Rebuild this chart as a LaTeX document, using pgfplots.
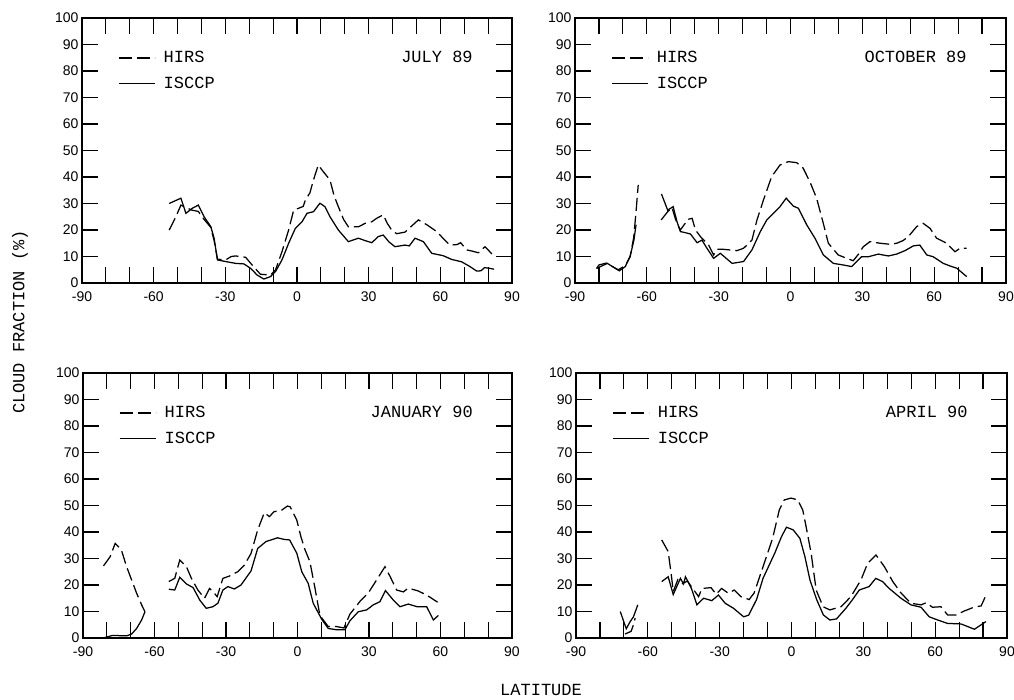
\documentclass[border=0pt]{standalone}
\usepackage{pgfplots}
\pgfplotsset{compat=1.18}
\usepackage{fontspec}
\setmainfont{Liberation Sans}
\newfontfamily\monof{Liberation Mono}
\newcommand{\bigf}{\monof\fontsize{17}{17}\selectfont}
\pgfplotsset{
  panel/.style={
    scale only axis, width=430pt, height=265pt,
    xmin=-90, xmax=90, ymin=0, ymax=100,
    xtick={-90,-60,-30,0,30,60,90},
    xticklabels={-90,-60,-30,0,30,60,90},
    minor xtick={-80,-70,-50,-40,-20,-10,10,20,40,50,70,80},
    ytick={0,10,20,30,40,50,60,70,80,90,100},
    yticklabels={0,10,20,30,40,50,60,70,80,90,100},
    tick align=inside, major tick length=16pt, minor tick length=16pt,
    every tick/.style={black, line width=1.2pt},
    axis line style={black, line width=1.7pt},
    ticklabel style={font=\fontsize{14}{14}\selectfont},
    xticklabel style={yshift=-5pt},
    unbounded coords=jump,
    legend style={at={(axis description cs:0.084,0.815)}, anchor=west,
      draw=none, fill=none, inner sep=0pt, outer sep=0pt, row sep=9pt, column sep=0pt,
      font=\bigf, nodes={inner sep=0pt, outer sep=0pt, text height=11pt, text depth=0pt}},
    legend cell align=left,
    legend image code/.code={\path[draw=none,fill=none] (0pt,0pt) (45pt,11pt); \draw[#1, dash phase=0pt] (0pt,-1pt) -- (36pt,-1pt);},
  },
  hirs/.style={black, line width=1.25pt, dash pattern=on 13pt off 5pt},
  isccp/.style={black, line width=1.25pt},
}
\begin{document}
\begin{tikzpicture}
\useasboundingbox (0,0) rectangle (1014pt,700pt);
% ---------------- JULY 89
\begin{axis}[panel, at={(82pt,417pt)}, anchor=south west]
\addplot[hirs] coordinates {(-53.5,20) (-50.7,25) (-48.6,29.4) (-46.5,28.5) (-44,27.5) (-41.3,27) (-38.9,24) (-36.1,21) (-34.7,16) (-33.3,9) (-29.9,8.7) (-27.5,10) (-25.7,10.2) (-21.5,9.7) (-18.8,6.8) (-15.3,3.3) (-11.1,3) (-9,4.9) (-6.3,11.8) (-3.5,20) (-1.4,27.5) (0.7,28.2) (2.6,28.9) (3.5,31.3) (5.4,34) (6.9,38.9) (8.9,44.5) (11,42) (13.8,38.9) (15.5,33) (17.3,28.8) (19.5,24) (21.5,21.2) (25.7,21.2) (28.5,22.5) (31.3,23.1) (33.5,24.5) (36.1,25.7) (37.8,22.5) (39.6,20) (41.7,18.6) (45.2,19.2) (48,21.5) (50.8,23.8) (54.3,22) (58.5,19.4) (61,17) (64,14.3) (67,14.5) (68.5,15.2) (71,12.5) (73.5,12) (75.9,11.4) (78.7,13.7) (80.5,12) (82.5,10)};
\addplot[isccp] coordinates {(-53.5,30) (-48.6,32) (-46.5,26.3) (-43.8,28.2) (-41.3,29.4) (-38.9,25) (-36.1,21.3) (-34.7,16.9) (-33.3,8.7) (-29.9,8.1) (-25.7,7.4) (-22.2,7.2) (-19.4,5.5) (-16.7,3) (-13.9,1.5) (-11.1,2.4) (-9,4.3) (-6.3,8.7) (-3.5,15) (-0.7,20.6) (2.1,23.1) (4.2,26.3) (6.9,26.9) (9.6,30.1) (11.7,28.8) (13.8,25) (17.3,20) (21.5,15.6) (25.7,16.9) (28.5,16) (31.3,15.2) (34,17.5) (36.1,18.1) (38.5,15.5) (41,13.7) (45.2,14.3) (47,14) (49.4,16.9) (52.9,15.6) (56.4,11.2) (61.2,10.3) (64.7,8.9) (68.9,8) (72.4,6.2) (75.2,4.5) (77,4.6) (78.5,5.8) (80.8,5.5) (82.5,5.2)};
\legend{HIRS,ISCCP}
\node[anchor=east, inner sep=0pt, font=\bigf] at (axis description cs:0.909,0.853) {JULY 89};
\end{axis}
% ---------------- OCTOBER 89
\begin{axis}[panel, width=431pt, at={(575pt,417pt)}, anchor=south west]
\addplot[hirs] coordinates {(-81,5.5) (-80,6.8) (-77,7.5) (-74,6) (-72,5) (-69,6.5) (-67,10) (-65.5,17) (-64.5,27) (-63.6,37) (-60,nan)
(-54,23.8) (-51.3,26.9) (-49.5,28.5) (-48,24) (-46.7,21.3) (-46,20) (-44,22.5) (-42.9,24) (-41.1,24.4) (-39.7,20) (-37.6,17.5) (-34.2,14.3) (-32.1,10.6) (-30.7,12.7) (-27.9,12.7) (-22.4,12.2) (-19.6,13.1) (-16.1,16.2) (-14,23.8) (-11.3,31.3) (-7.9,40.1) (-4.4,44.5) (-0.9,45.8) (2.6,45.4) (5.3,43.3) (8.1,38.2) (10.9,32) (13.7,22.5) (15.8,15) (19.9,10.6) (23.5,9.3) (26.2,8.4) (28.5,11) (30.4,13.7) (33.2,15.6) (37.4,15) (41.6,14.6) (44.4,15) (47,16) (49.2,17.5) (52.7,21.3) (55.4,22.5) (58.3,20.6) (61,16.9) (65.2,15) (68.7,11.8) (70.8,13.1) (73.6,13.1)};
\addplot[isccp] coordinates {(-81,5.5) (-76.5,7.4) (-71.5,4.6) (-69,6.2) (-67,9.9) (-65.4,16.2) (-64.5,22) (-60,nan)
(-53.9,33.6) (-51.3,27.5) (-49,28.8) (-47.4,23.1) (-46,19.4) (-44,19) (-41.8,18.5) (-39,15.2) (-37,16.2) (-34.9,13.1) (-32.1,9.3) (-29.3,11.2) (-24.4,7.4) (-19.6,8.1) (-16.1,12.5) (-12.6,19.4) (-9.9,23.8) (-4.4,28.8) (-1.8,32) (1.2,29) (3.3,28.2) (6.8,21.9) (10.2,16.9) (13.7,10.6) (17.9,7.4) (22,6.8) (25.5,6.2) (29.7,9.9) (32.5,9.9) (36.7,10.9) (40.9,10.2) (44.3,10.9) (47.8,12.2) (51.3,14) (54,14.3) (56.9,10.6) (59.6,9.9) (63.8,7.4) (67.3,6.2) (69.4,5.6) (73.6,2.4)};
\legend{HIRS,ISCCP}
\node[anchor=east, inner sep=0pt, font=\bigf] at (axis description cs:0.909,0.853) {OCTOBER 89};
\end{axis}
% ---------------- JANUARY 90
\begin{axis}[panel, width=429pt, at={(83pt,62pt)}, anchor=south west]
\addplot[hirs] coordinates {(-81.4,27.2) (-78.6,30.7) (-76.5,35.7) (-74,33.5) (-71.7,26.9) (-69.6,21.9) (-67.5,16.9) (-65.4,12.5) (-64,9.9) (-60,nan)
(-54,21.3) (-51.5,22.5) (-49.4,29.4) (-46.6,26.9) (-44.5,22.5) (-41.8,18.1) (-39,15) (-36.9,18.7) (-35,17) (-33.7,15.6) (-31.3,22.5) (-28.5,23.4) (-25.1,25) (-22.3,27.5) (-19.5,31.9) (-16.7,40.8) (-13.9,47.3) (-11.8,45.8) (-9.8,47.7) (-7,48) (-4.2,49.8) (-3.1,49.5) (-0.3,44.5) (1.5,38) (3.2,33.2) (5.2,28.8) (7.3,19) (9.4,8.5) (12.9,4.3) (16.4,4.3) (19.5,3.8) (22,9) (26.2,13.8) (29.7,17) (33.2,21.9) (36.7,26.9) (38.8,23.3) (41.6,18.1) (44.4,17.4) (46.5,18.8) (50.5,17.8) (54.2,16.2) (58.8,13.5)};
\addplot[isccp] coordinates {(-81.7,0) (-80.7,0.2) (-77.9,0.9) (-75.1,0.9) (-71.7,0.8) (-69.6,1.5) (-67.5,3.6) (-65.4,6.8) (-64,9.9) (-60,nan)
(-54,18.4) (-51.5,18.1) (-49.4,22.9) (-46.6,20.4) (-43.8,19) (-41,14.3) (-38.3,11.2) (-35.5,11.8) (-33.4,13.1) (-31.3,18.1) (-29.2,19.4) (-26.5,18.5) (-23.7,20) (-19.5,25.3) (-16.7,33.8) (-13.2,36.4) (-8.4,37.8) (-5.6,37.2) (-3.3,37) (-0.3,32) (1.8,25) (4.5,20.6) (6.6,13.1) (10.2,7) (12.9,3.6) (16.4,3.1) (19.9,3.1) (22,6.5) (25.5,9.9) (29,10.6) (31.8,12.5) (34.6,13.7) (36.9,17.9) (40.2,14.3) (43,11.8) (46.5,12.8) (50.2,11.8) (54.2,11.8) (57,6.8) (59.1,8.5)};
\legend{HIRS,ISCCP}
\node[anchor=east, inner sep=0pt, font=\bigf] at (axis description cs:0.909,0.853) {JANUARY 90};
\end{axis}
% ---------------- APRIL 90
\begin{axis}[panel, width=431pt, at={(576pt,62pt)}, anchor=south west]
\addplot[hirs] coordinates {(-69.5,1.5) (-67,2.5) (-66,5) (-65.3,7.5) (-60,nan)
(-54.2,37) (-51.5,32.6) (-50.1,23.1) (-49.4,17.5) (-47.5,22) (-45.5,20.5) (-43.5,21.5) (-41.5,19) (-38.8,15.6) (-37.4,18.7) (-33.6,19) (-31.5,16.5) (-29.2,18.7) (-26.4,16.9) (-23.9,18.1) (-21.1,15.6) (-17.7,14.5) (-15.6,17) (-11.4,28.2) (-7.9,37.6) (-5.1,48.3) (-3,52.1) (-0.2,52.8) (2.6,52.1) (4.7,48.3) (6.1,42) (8.2,32) (10.3,18.1) (13.2,11.8) (16,10.6) (20.7,11.8) (24.8,15.6) (29,21.9) (31.8,28.2) (35.3,31.3) (38.8,26.9) (42.3,21.3) (45.8,16.9) (49.9,13.1) (54.1,12.5) (56.2,13.3) (58.9,11.6) (62.4,11.8) (65.2,8.7) (68.7,8.7) (72.2,10.2) (76.4,11.7) (79.2,12.1) (81.6,16.9)};
\addplot[isccp] coordinates {(-71.5,10) (-70,6) (-69,3.5) (-67.5,6) (-66,8) (-64.2,12.5) (-60,nan)
(-54.2,21.3) (-51.5,23.1) (-49.4,16.4) (-46.4,22.5) (-45.1,20.4) (-44.3,23.1) (-41.8,18.7) (-39.5,12.5) (-36.7,15) (-33.3,14.1) (-30.5,16.2) (-27.7,13.1) (-24.2,11.2) (-20,8) (-17.9,8.6) (-14.6,14.5) (-11.9,22.5) (-7,32) (-4.2,38.2) (-2.1,41.8) (0.7,40.8) (3.5,37.6) (5.6,30.7) (7.7,21.9) (10.5,14.5) (13.3,8.7) (16,6.8) (18.8,7.2) (22.7,11.2) (25.5,14.5) (28.3,18.1) (32.4,19.4) (35.2,22.5) (38,21.3) (40.8,18.7) (45.7,15) (49.9,12.5) (54.1,11.6) (57.5,8) (61,6.8) (65.2,5.5) (70.8,5.3) (76.4,3.3) (81.2,6.2)};
\legend{HIRS,ISCCP}
\node[anchor=east, inner sep=0pt, font=\bigf] at (axis description cs:0.909,0.853) {APRIL 90};
\end{axis}
\node[rotate=90, font=\bigf, inner sep=0pt] at (20pt,378pt) {CLOUD FRACTION (\%)};
\node[font=\bigf, inner sep=0pt] at (541pt,10pt) {LATITUDE};
\end{tikzpicture}
\end{document}
